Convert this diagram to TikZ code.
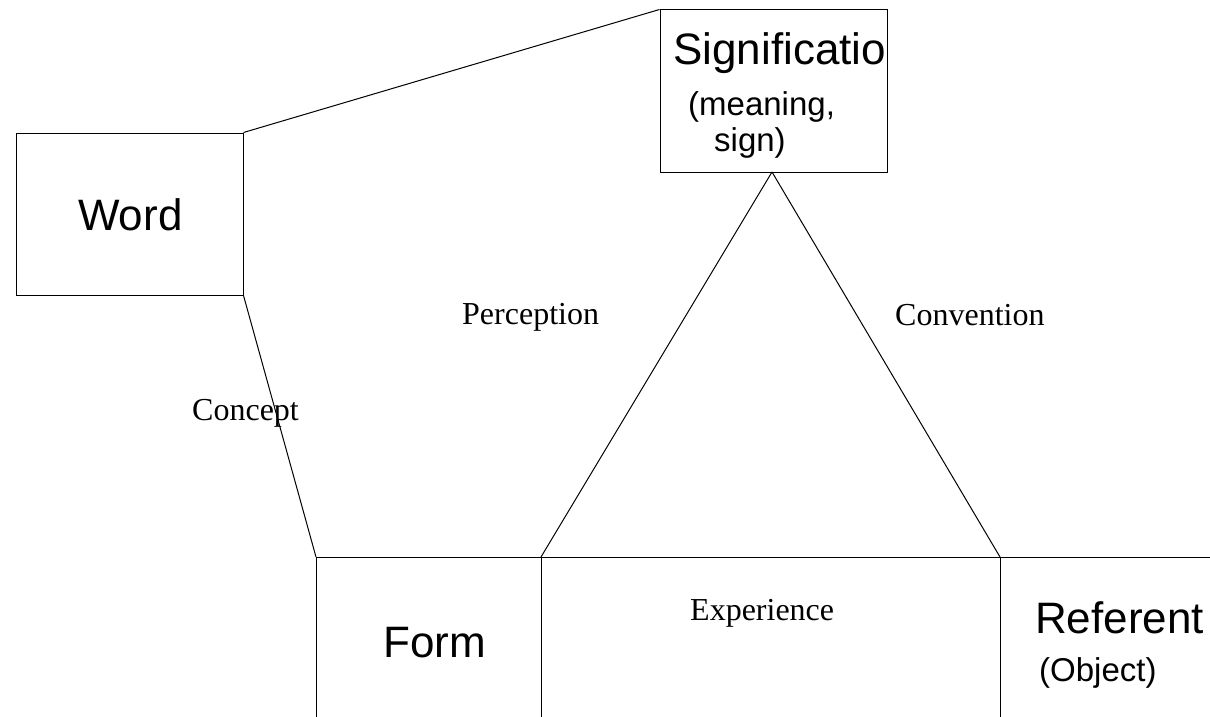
\documentclass[tikz,border=0pt]{standalone}
\usepackage{fontspec}
\setmainfont{Liberation Serif}
\newfontfamily\arialf{Liberation Sans}
\begin{document}
\begin{tikzpicture}[x=1pt,y=-1pt,
  ln/.style={line width=1pt,black},
  boxnode/.style={draw,line width=1pt,inner sep=0pt,rectangle},
  bigsans/.style={font=\arialf\fontsize{44}{50}\selectfont,inner sep=0pt,anchor=base west},
  smallsans/.style={font=\arialf\fontsize{33}{38}\selectfont,inner sep=0pt,anchor=base west},
  serif/.style={font=\fontsize{32}{36}\selectfont,inner sep=0pt,anchor=base west}]
\useasboundingbox (0,0) rectangle (1210,717);
% boxes
\node[boxnode,minimum width=227pt,minimum height=162pt] (word) at (129.5,214) {};
\node[boxnode,minimum width=227pt,minimum height=162pt] (sig) at (773.5,91) {};
% coordinates
\coordinate (apex) at (772,172);
\coordinate (fl) at (316,557);
\coordinate (fr) at (541,557);
\coordinate (rl) at (1000,557);
\coordinate (re) at (1210,557);
\coordinate (flb) at (316,717);
\coordinate (frb) at (541,717);
\coordinate (rlb) at (1000,717);
% connectors
\draw[ln] (word.north east) -- (sig.north west);
\draw[ln] (word.south east) -- (fl);
\draw[ln] (apex) -- (fr);
\draw[ln] (apex) -- (rl);
\draw[ln] (fl) -- (re);
\draw[ln] (fl) -- (flb);
\draw[ln] (fr) -- (frb);
\draw[ln] (rl) -- (rlb);
% texts
\node[bigsans] (twordt) at (78,230) {Word};
\node[bigsans] (tsig) at (673,64) {Significatio};
\node[smallsans] (tmean) at (688,115) {(meaning,};
\node[smallsans] (tsign) at (714,151) {sign)};
\node[bigsans] (tform) at (383,657) {Form};
\node[bigsans] (tref) at (1035,633) {Referent};
\node[smallsans] (tobj) at (1039,681) {(Object)};
\node[serif] (tperc) at (462,324) {Perception};
\node[serif] (tconv) at (895,325) {Convention};
\node[serif] (tconc) at (192,420) {Concept};
\node[serif] (texp) at (690,620) {Experience};
\end{tikzpicture}
\end{document}
